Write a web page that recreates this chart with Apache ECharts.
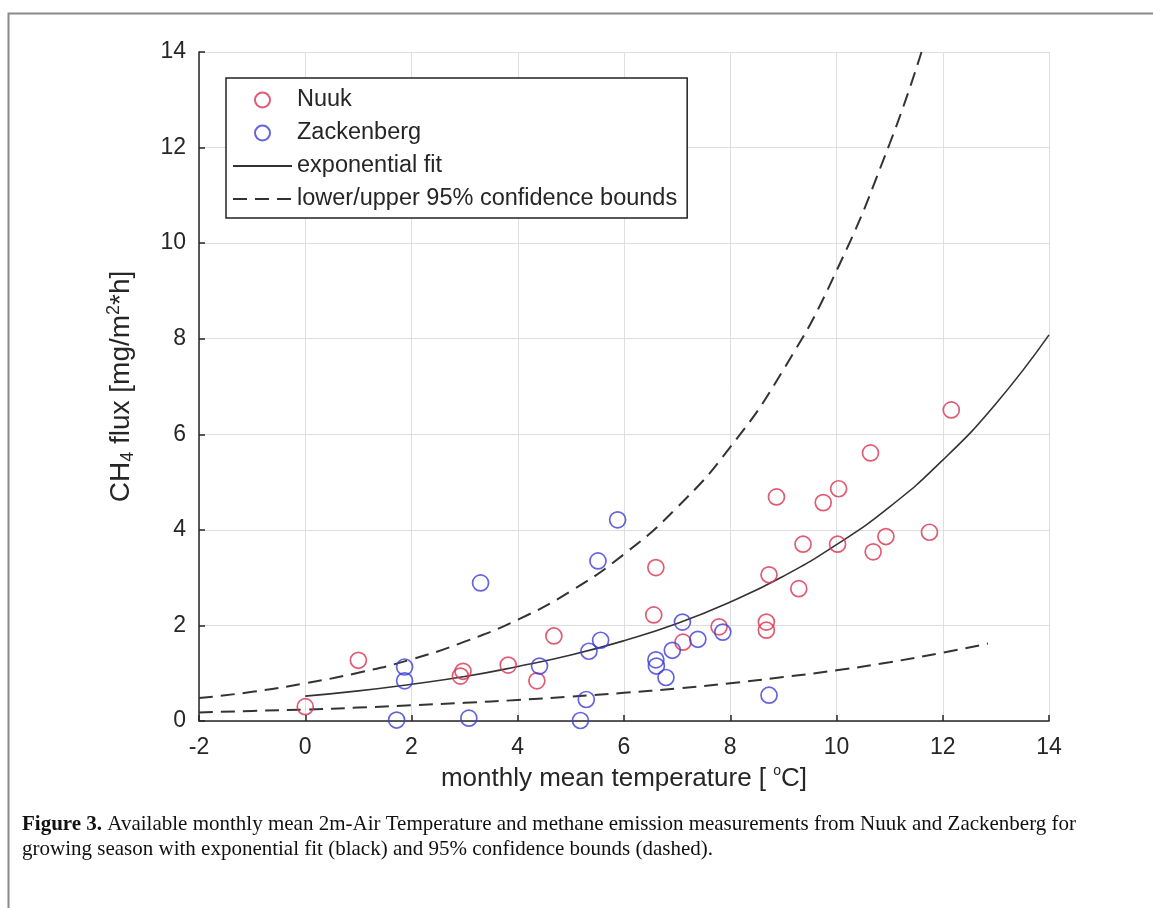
<!DOCTYPE html>
<html><head><meta charset="utf-8">
<script src="https://cdn.jsdelivr.net/npm/echarts@6/dist/echarts.min.js"></script>
<style>html,body{margin:0;padding:0;background:#fff}#c{width:1153px;height:908px}</style>
</head><body><div id="c"></div>
<script>
// ---- data ----
const nuukTemp = [0.0, 1.0, 2.92, 2.97, 3.82, 4.36, 4.68, 6.56, 6.60, 7.11, 7.79, 8.68, 8.68, 8.73, 8.87, 9.29, 9.37, 9.75, 10.02, 10.04, 10.64, 10.69, 10.93, 11.75, 12.16];
const nuukFlux = [0.30, 1.27, 0.94, 1.04, 1.17, 0.84, 1.78, 2.22, 3.21, 1.65, 1.97, 2.07, 1.90, 3.06, 4.69, 2.77, 3.70, 4.57, 3.70, 4.86, 5.61, 3.54, 3.86, 3.95, 6.51];
const zackTemp = [1.72, 1.87, 1.87, 3.08, 3.30, 4.41, 5.18, 5.29, 5.34, 5.51, 5.56, 5.88, 6.60, 6.61, 6.79, 6.91, 7.10, 7.39, 7.86, 8.73];
const zackFlux = [0.02, 0.84, 1.13, 0.06, 2.89, 1.15, 0.01, 0.45, 1.46, 3.35, 1.69, 4.21, 1.28, 1.15, 0.91, 1.48, 2.07, 1.71, 1.86, 0.54];
const fitTemp = [0, 1, 2, 3, 4, 5, 6, 7, 8, 9, 10, 11, 12, 13, 14];
const fitFlux = [0.52, 0.63, 0.77, 0.93, 1.14, 1.38, 1.68, 2.04, 2.49, 3.03, 3.69, 4.48, 5.46, 6.64, 8.08];
const upperTemp = [-2, -1, 0, 1, 2, 3, 4, 5, 6, 7, 8, 9, 10, 11, 11.6];
const upperFlux = [0.48, 0.61, 0.79, 1.01, 1.29, 1.66, 2.12, 2.72, 3.49, 4.47, 5.73, 7.35, 9.42, 12.08, 14.0];
const lowerTemp = [-2, -1, 0, 1, 2, 3, 4, 5, 6, 7, 8, 9, 10, 11, 12, 12.85];
const lowerFlux = [0.18, 0.21, 0.24, 0.28, 0.33, 0.38, 0.44, 0.51, 0.59, 0.68, 0.79, 0.92, 1.06, 1.23, 1.43, 1.62];
const xTicks = [-2, 0, 2, 4, 6, 8, 10, 12, 14];
const yTicks = [0, 2, 4, 6, 8, 10, 12, 14];
const legendNames = ['Nuuk', 'Zackenberg', 'exponential fit', 'lower/upper 95% confidence bounds'];
const captionBold = 'Figure 3.';
const captionLine1 = ' Available monthly mean 2m-Air Temperature and methane emission measurements from Nuuk and Zackenberg for';
const captionLine2 = 'growing season with exponential fit (black) and 95% confidence bounds (dashed).';

const zip = (a, b) => a.map((v, i) => [v, b[i]]);
const TXT = '#262626';
const FONT = 'Liberation Sans';
const RED = '#d8334f';
const BLUE = '#3d3dd4';

const chart = echarts.init(document.getElementById('c'));
const axisCommon = {
  axisLine: { show: true, onZero: false, lineStyle: { color: TXT, width: 1.5 } },
  axisTick: { show: true, inside: true, length: 6, lineStyle: { color: TXT, width: 1.5 } },
  splitLine: { show: true, lineStyle: { color: '#dedede', width: 1 } },
  axisLabel: { color: TXT, fontSize: 23, fontFamily: FONT },
  nameLocation: 'middle'
};
chart.setOption({
  animation: false,
  backgroundColor: '#fff',
  grid: { left: 199, top: 52, width: 850, height: 669 },
  xAxis: Object.assign({}, axisCommon, {
    type: 'value', min: xTicks[0], max: xTicks[xTicks.length - 1], interval: xTicks[1] - xTicks[0],
    axisLabel: Object.assign({}, axisCommon.axisLabel, { margin: 15 }),
    name: 'monthly mean temperature [ {sup|o}C]', nameGap: 34,
    nameTextStyle: { color: TXT, fontSize: 26, fontFamily: FONT, lineHeight: 30,
      rich: { sup: { fontSize: 14, fontFamily: FONT, color: TXT, verticalAlign: 'top', lineHeight: 14 } } }
  }),
  yAxis: Object.assign({}, axisCommon, {
    type: 'value', min: yTicks[0], max: yTicks[yTicks.length - 1], interval: yTicks[1] - yTicks[0],
    axisLabel: Object.assign({}, axisCommon.axisLabel, { margin: 13 }),
    name: 'CH{sub|4} flux [mg/m{sup|2}*h]', nameGap: 62,
    nameTextStyle: { color: TXT, fontSize: 28, fontFamily: FONT, lineHeight: 32,
      rich: {
        sub: { fontSize: 18, fontFamily: FONT, color: TXT, verticalAlign: 'bottom', lineHeight: 18 },
        sup: { fontSize: 18, fontFamily: FONT, color: TXT, verticalAlign: 'top', lineHeight: 18 }
      } }
  }),
  legend: {
    orient: 'vertical', left: 226, top: 78,
    itemWidth: 59, itemHeight: 15, itemGap: 9,
    padding: [10, 10, 7, 6],
    borderColor: '#222', borderWidth: 1.5, backgroundColor: '#fff',
    textStyle: { fontSize: 23.5, fontFamily: FONT, color: TXT },
    data: [
      { name: legendNames[0] },
      { name: legendNames[1] },
      { name: legendNames[2], itemStyle: { opacity: 0 } },
      { name: legendNames[3], itemStyle: { opacity: 0 } }
    ]
  },
  series: [
    { name: legendNames[0], type: 'scatter', data: zip(nuukTemp, nuukFlux), symbol: 'circle', symbolSize: 16,
      itemStyle: { color: 'rgba(255,255,255,0)', borderColor: RED, borderWidth: 1.7 }, z: 3 },
    { name: legendNames[1], type: 'scatter', data: zip(zackTemp, zackFlux), symbol: 'circle', symbolSize: 16,
      itemStyle: { color: 'rgba(255,255,255,0)', borderColor: BLUE, borderWidth: 1.7 }, z: 3 },
    { name: legendNames[2], type: 'line', data: zip(fitTemp, fitFlux), symbol: 'none', smooth: true,
      lineStyle: { color: '#333', width: 1.6 }, itemStyle: { color: '#333' } },
    { name: legendNames[3], type: 'line', data: zip(upperTemp, upperFlux), symbol: 'none', smooth: true,
      lineStyle: { color: '#333', width: 2, type: [14, 8] }, itemStyle: { color: '#333' } },
    { name: legendNames[3], type: 'line', data: zip(lowerTemp, lowerFlux), symbol: 'none', smooth: true,
      lineStyle: { color: '#333', width: 2, type: [14, 8] }, itemStyle: { color: '#333' } }
  ],
  graphic: [
    { type: 'rect', left: 6, top: 11, z: -10, silent: true,
      shape: { width: 1300, height: 1000 }, style: { fill: 'none', stroke: '#8a8a8a', lineWidth: 2 } },
    { type: 'text', left: 22, top: 814, silent: true,
      style: { text: '{b|' + captionBold + '}' + captionLine1, fill: '#111', fontFamily: 'Liberation Serif', fontSize: 21,
        rich: { b: { fontWeight: 'bold', fontFamily: 'Liberation Serif', fontSize: 21, fill: '#111' } } } },
    { type: 'text', left: 22, top: 839, silent: true,
      style: { text: captionLine2, fill: '#111', fontFamily: 'Liberation Serif', fontSize: 21 } }
  ]
});
</script>
</body></html>
